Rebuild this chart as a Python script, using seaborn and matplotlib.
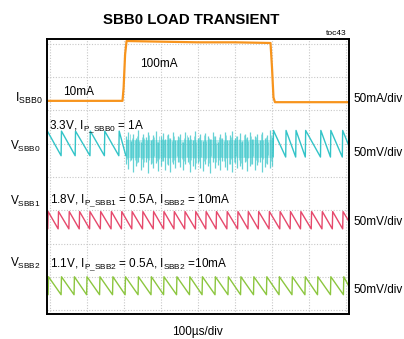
import numpy as np
import matplotlib
matplotlib.use("Agg")
import matplotlib.pyplot as plt
import seaborn as sns

# ---------------- data ----------------
# time axis in microseconds (100 us/div, 8 div)
# load current ISBB0 (mA), 50 mA/div
i_time = [-10, 100, 196, 199, 203, 207, 300, 400, 500, 596, 600, 604, 608, 700, 810]
i_ma = [10, 10, 10, 30, 80, 100, 99, 98, 98, 97, 60, 15, 8, 8, 8]

# VSBB0 ripple (mV), 50 mV/div: tooth (jump) times for light-load sections
v0_teeth_left = [-8, 30, 68, 108, 147, 186]
v0_teeth_right = [603, 637, 664, 690, 731, 758, 790]
v0_peak, v0_valley = 19, -18
# VSBB0 heavy-load burst: spike tops / bottoms (mV)
v0_burst_hi = [12, 18, 4, 15, 8, 20, 2, 14, 10, 17, 6, 13, 19, 3, 11, 16, 7, 14, 9, 18,
               5, 12, 15, 2, 17, 10, 13, 6, 19, 8, 14, 4, 16, 11, 7, 18, 12, 3, 15, 9,
               17, 6, 13, 19, 8, 11, 16, 4, 14, 10, 18, 7, 12, 15, 5, 17, 9, 13, 20, 10]
v0_burst_lo = [-30, -38, -25, -42, -33, -28, -40, -35, -27, -44, -31, -36, -29, -41, -34,
               -26, -39, -32, -43, -30, -37, -28, -35, -40, -31, -27, -42, -33, -38, -29,
               -36, -41, -30, -34, -44, -28, -37, -32, -39, -26, -35, -40, -31, -43, -29,
               -36, -33, -38, -27, -41, -34, -30, -39, -32, -28, -42, -35, -31, -37, -33]
v0_burst_core = (-22, 6)
v0_burst_start, v0_burst_end = 205, 600

# VSBB1 ripple (mV)
v1_teeth = [-6, 22, 51, 79, 107, 136, 165, 193, 221, 250, 279, 307, 335, 364, 393,
            421, 449, 478, 507, 535, 563, 592, 621, 649, 677, 706, 735, 763, 791]
v1_peak, v1_valley = 13, -13

# VSBB2 ripple (mV)
v2_teeth = [-5, 30, 65, 99, 134, 169, 203, 238, 273, 307, 342, 377, 411, 446, 481,
            515, 550, 585, 619, 654, 689, 723, 758, 793]
v2_peak, v2_valley = 14, -13

# channel baselines (div) and scales
i_zero_div = 6.09
v0_zero_div, v1_zero_div, v2_zero_div = 5.0, 2.7, 0.72
ma_per_div, mv_per_div = 50, 50

title = "SBB0 LOAD TRANSIENT"
x_label = "100µs/div"

# ---------------- helpers ----------------
def sawtooth(teeth, peak, valley, t_end):
    xs, ys = [], []
    for k, t in enumerate(teeth):
        nxt = teeth[k + 1] if k + 1 < len(teeth) else t_end
        xs += [t, t + 1.0, nxt]
        ys += [valley, peak, valley]
    return np.array(xs), np.array(ys)

# ---------------- figure ----------------
sns.set_theme(style="white")
plt.rcParams["font.family"] = ["Liberation Sans", "DejaVu Sans"]
plt.rcParams["mathtext.fontset"] = "custom"
plt.rcParams["mathtext.rm"] = "Liberation Sans"
plt.rcParams["mathtext.default"] = "regular"
plt.rcParams["text.color"] = "black"

W, H = 404, 339
fig = plt.figure(figsize=(W / 100, H / 100), dpi=100)
fig.patch.set_facecolor("white")
ax = fig.add_axes([47 / W, 1 - 314 / H, 302 / W, 275.5 / H])

C_OR = "#f7941d"
C_TE = "#33c4c8"
C_PK = "#e6496c"
C_GR = "#8cc63f"

# grid
for g in range(9):
    ax.axvline(g * 100, color="#c8c8c8", lw=0.8, ls=(0, (1, 1.5)), zorder=0)
    ax.axhline(g, color="#c8c8c8", lw=0.8, ls=(0, (1, 1.5)), zorder=0)

# ISBB0
sns.lineplot(x=np.array(i_time), y=i_zero_div + np.array(i_ma) / ma_per_div,
             ax=ax, color=C_OR, lw=1.6, estimator=None, sort=False)

# VSBB0
xl, yl = sawtooth(v0_teeth_left, v0_peak, v0_valley, v0_burst_start)
sns.lineplot(x=xl, y=v0_zero_div + yl / mv_per_div, ax=ax, color=C_TE, lw=1.0,
             estimator=None, sort=False)
xs = np.linspace(v0_burst_start, v0_burst_end, len(v0_burst_hi))
ax.fill_between([v0_burst_start, v0_burst_end],
                v0_zero_div + v0_burst_core[0] / mv_per_div,
                v0_zero_div + v0_burst_core[1] / mv_per_div,
                color=C_TE, alpha=0.3, lw=0)
ax.vlines(xs, v0_zero_div + np.array(v0_burst_lo) / mv_per_div,
          v0_zero_div + np.array(v0_burst_hi) / mv_per_div,
          color=C_TE, lw=0.9, alpha=0.75)
xs2 = xs[:-1] + (xs[1] - xs[0]) / 2
ax.vlines(xs2, v0_zero_div + np.array(v0_burst_lo[::-1][:-1]) * 0.7 / mv_per_div,
          v0_zero_div + np.array(v0_burst_hi[::-1][:-1]) * 0.7 / mv_per_div,
          color=C_TE, lw=0.7, alpha=0.5)
xr, yr = sawtooth(v0_teeth_right, v0_peak + 1, v0_valley - 2, 820)
sns.lineplot(x=xr, y=v0_zero_div + yr / mv_per_div, ax=ax, color=C_TE, lw=1.0,
             estimator=None, sort=False)

# VSBB1
x1, y1 = sawtooth(v1_teeth, v1_peak, v1_valley, 820)
sns.lineplot(x=x1, y=v1_zero_div + y1 / mv_per_div, ax=ax, color=C_PK, lw=1.0,
             estimator=None, sort=False)

# VSBB2
x2, y2 = sawtooth(v2_teeth, v2_peak, v2_valley, 820)
sns.lineplot(x=x2, y=v2_zero_div + y2 / mv_per_div, ax=ax, color=C_GR, lw=1.0,
             estimator=None, sort=False)

ax.set_xlim(-8.1, 808.1)
ax.set_ylim(-0.12, 8.165)
ax.set_xticks([])
ax.set_yticks([])
ax.set_xlabel("")
ax.set_ylabel("")
for s in ax.spines.values():
    s.set_visible(True)
    s.set_color("black")
    s.set_linewidth(1.4)

def ftxt(x, y, s, size=8.5, ha="left", **kw):
    fig.text(x / W, 1 - y / H, s, fontsize=size, ha=ha, va="baseline",
             color="black", **kw)

fig.text(191 / W, 1 - 24 / H, title, fontsize=10.8, fontweight="bold", ha="center",
         va="baseline", color="black",
         family=["Liberation Sans Narrow", "Liberation Sans", "DejaVu Sans"])
ftxt(347, 35, "toc43", size=6, ha="right")
ftxt(140, 67, "100mA")
ftxt(63, 95, "10mA")
ftxt(15, 102, r"$I_{SBB0}$", size=9)
ftxt(353, 102, "50mA/div")
ftxt(49, 129, r"3.3V, $I_{P\_SBB0}$ = 1A")
ftxt(10, 150, r"$V_{SBB0}$")
ftxt(353, 156, "50mV/div")
ftxt(50, 203, r"1.8V, $I_{P\_SBB1}$ = 0.5A, $I_{SBB2}$ = 10mA")
ftxt(10, 205, r"$V_{SBB1}$")
ftxt(353, 225, "50mV/div")
ftxt(10, 267, r"$V_{SBB2}$")
ftxt(50, 267, r"1.1V, $I_{P\_SBB2}$ = 0.5A, $I_{SBB2}$ =10mA")
ftxt(353, 293, "50mV/div")
ftxt(197, 335, x_label, ha="center")

fig.savefig("out.png", dpi=100, facecolor="white")
